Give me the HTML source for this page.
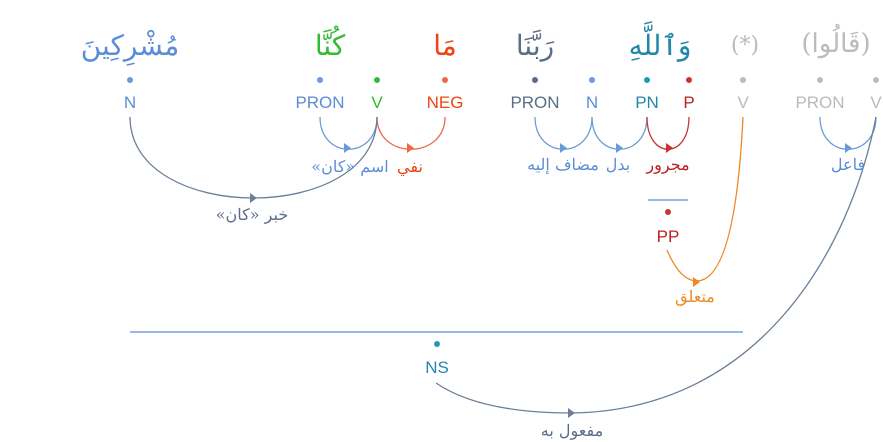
<!DOCTYPE html>
<html><head><meta charset="utf-8"><style>
html,body{margin:0;padding:0;background:#fff;width:883px;height:442px;overflow:hidden}
svg text{font-family:"Liberation Sans",sans-serif}
svg text.ar{font-family:"DejaVu Serif","Liberation Serif",serif}
</style></head><body>
<svg width="883" height="442" xmlns="http://www.w3.org/2000/svg">
<g font-size="28" text-anchor="middle">
<text x="130" y="55" fill="#5b8dd6" class="ar" direction="rtl">مُشْرِكِينَ</text>
<text x="330" y="55" fill="#33bb33" class="ar" direction="rtl">كُنَّا</text>
<text x="445" y="55" fill="#ee4411" class="ar" direction="rtl">مَا</text>
<text x="535" y="55" fill="#5a6e88" class="ar" direction="rtl">رَبَّنَا</text>
<text x="660" y="55" fill="#2288aa" class="ar" direction="rtl">وَٱللَّهِ</text>
<text x="745" y="52" fill="#bbbbbb" font-size="22" class="ar">(*)</text>
<text x="836" y="52" fill="#bbbbbb" font-size="26" class="ar" direction="rtl" unicode-bidi="embed">(قَالُوا)</text>
</g>
<g>
<circle cx="130" cy="80" r="3" fill="#6a9ad8"/>
<circle cx="320" cy="80" r="3" fill="#6a9ad8"/>
<circle cx="377" cy="80" r="3" fill="#33bb33"/>
<circle cx="445" cy="80" r="3" fill="#ee6644"/>
<circle cx="535" cy="80" r="3" fill="#5a6e88"/>
<circle cx="592" cy="80" r="3" fill="#6a9ad8"/>
<circle cx="647" cy="80" r="3" fill="#2299bb"/>
<circle cx="689" cy="80" r="3" fill="#cc3333"/>
<circle cx="743" cy="80" r="3" fill="#bbbbbb"/>
<circle cx="820" cy="80" r="3" fill="#bbbbbb"/>
<circle cx="876" cy="80" r="3" fill="#bbbbbb"/>
<circle cx="668" cy="212" r="3" fill="#cc3333"/>
<circle cx="437" cy="344" r="3" fill="#2299bb"/>
</g>
<g font-size="17" text-anchor="middle">
<text x="130" y="108" fill="#5b8dd6">N</text>
<text x="320" y="108" fill="#5b8dd6">PRON</text>
<text x="377" y="108" fill="#33bb33">V</text>
<text x="445" y="108" fill="#ee4411">NEG</text>
<text x="535" y="108" fill="#5a6e88">PRON</text>
<text x="592" y="108" fill="#5b8dd6">N</text>
<text x="647" y="108" fill="#2288aa">PN</text>
<text x="689" y="108" fill="#bb2222">P</text>
<text x="743" y="108" fill="#bbbbbb">V</text>
<text x="820" y="108" fill="#bbbbbb">PRON</text>
<text x="876" y="108" fill="#bbbbbb">V</text>
<text x="668" y="242" fill="#bb2222">PP</text>
<text x="437" y="373" fill="#2288aa">NS</text>
</g>
<g fill="none" stroke-width="1.3">
<path d="M320 117 C320 160 377 160 377 117" stroke="#6a9ad8"/>
<path d="M377 117 C377 160 445 160 445 117" stroke="#ee6644"/>
<path d="M130 117 C130 225 377 225 377 117" stroke="#6a7f98"/>
<path d="M535 117 C535 160 592 160 592 117" stroke="#6a9ad8"/>
<path d="M592 117 C592 160 647 160 647 117" stroke="#6a9ad8"/>
<path d="M647 117 C647 160 689 160 689 117" stroke="#cc3333"/>
<path d="M820 117 C820 160 876 160 876 117" stroke="#6a9ad8"/>
<path d="M667 250 Q680 281 697 281 Q735 280 743 117" stroke="#ee8822"/>
<path d="M436 383 Q480 413 572 413 C760 410 850 250 876 117" stroke="#6a7f98"/>
<line x1="648" y1="200" x2="688" y2="200" stroke="#5b8dd6"/>
<line x1="130" y1="332" x2="743" y2="332" stroke="#5b8dd6"/>
</g>
<g>
<path d="M344 143 L351 148 L344 153Z" fill="#6a9ad8"/>
<path d="M407 143 L414 148 L407 153Z" fill="#ee6644"/>
<path d="M250 193 L257 198 L250 203Z" fill="#6a7f98"/>
<path d="M560 143 L567 148 L560 153Z" fill="#6a9ad8"/>
<path d="M616 143 L623 148 L616 153Z" fill="#6a9ad8"/>
<path d="M666 143 L673 148 L666 153Z" fill="#cc3333"/>
<path d="M845 143 L852 148 L845 153Z" fill="#6a9ad8"/>
<path d="M693 277 L700 282 L693 287Z" fill="#ee8822"/>
<path d="M568 408 L575 413 L568 418Z" fill="#6a7f98"/>
</g>
<g font-size="16" text-anchor="middle">
<text x="350" y="172" fill="#5b8dd6" class="ar" direction="rtl" unicode-bidi="embed">اسم «كان»</text>
<text x="410" y="172" fill="#ee4411" class="ar" direction="rtl">نفي</text>
<text x="252" y="220" fill="#5a6e88" class="ar" direction="rtl" unicode-bidi="embed">خبر «كان»</text>
<text x="563" y="170" fill="#5b8dd6" class="ar" direction="rtl">مضاف إليه</text>
<text x="618" y="170" fill="#5b8dd6" class="ar" direction="rtl">بدل</text>
<text x="668" y="170" fill="#bb2222" class="ar" direction="rtl">مجرور</text>
<text x="848" y="170" fill="#5b8dd6" class="ar" direction="rtl">فاعل</text>
<text x="695" y="302" fill="#ee8822" class="ar" direction="rtl">متعلق</text>
<text x="572" y="436" fill="#5a6e88" class="ar" direction="rtl">مفعول به</text>
</g>
</svg>
</body></html>
